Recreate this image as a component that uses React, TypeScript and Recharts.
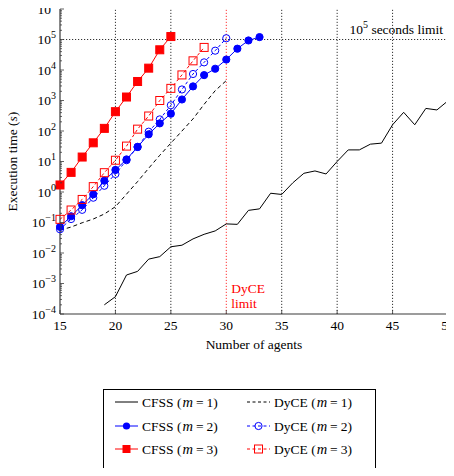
import React from "react";
import {
  LineChart,
  Line,
  XAxis,
  YAxis,
  ReferenceLine,
  Legend,
} from "recharts";

const FONT = "Liberation Serif, DejaVu Serif, serif";

const agents = [
  15, 16, 17, 18, 19, 20, 21, 22, 23, 24, 25, 26, 27, 28, 29, 30, 31, 32, 33,
  34, 35, 36, 37, 38, 39, 40, 41, 42, 43, 44, 45, 46, 47, 48, 49, 50,
];

// values per agent count, null where the run was not made
const cfss1 = [
  null, null, null, null, 0.0002, 0.00037, 0.0019, 0.0025, 0.0063, 0.0076,
  0.016, 0.018, 0.029, 0.041, 0.053, 0.09, 0.087, 0.25, 0.28, 0.91, 0.83, 2.0,
  4.1, 4.9, 3.9, 10, 24, 24, 37, 40, 160, 410, 160, 550, 490, 980,
];
const cfss2 = [
  0.072, 0.16, 0.37, 0.84, 2.35, 5.3, 11.7, 30, 78, 178, 370, 1080, 2900, 6800,
  11000, 22000, 50000, 93000, 120000, null, null, null, null, null, null, null,
  null, null, null, null, null, null, null, null, null, null,
];
const cfss3 = [
  1.7, 4.4, 14, 41, 122, 430, 1300, 4200, 11500, 46000, 125000, null, null,
  null, null, null, null, null, null, null, null, null, null, null, null, null,
  null, null, null, null, null, null, null, null, null, null,
];
const dyce1 = [
  0.056, 0.071, 0.098, 0.13, 0.19, 0.33, 0.85, 2.2, 6, 16, 40, 100, 250, 750,
  2100, 4500, null, null, null, null, null, null, null, null, null, null, null,
  null, null, null, null, null, null, null, null, null,
];
const dyce2 = [
  0.06, 0.13, 0.26, 0.65, 1.6, 3.9, 11, 30, 95, 240, 700, 2300, 7400, 17800,
  43000, 110000, null, null, null, null, null, null, null, null, null, null,
  null, null, null, null, null, null, null, null, null, null,
];
const dyce3 = [
  0.127, 0.257, 0.57, 1.5, 4.3, 11, 32, 115, 310, 1000, 2500, 6900, 20000,
  55000, null, null, null, null, null, null, null, null, null, null, null, null,
  null, null, null, null, null, null, null, null, null, null,
];

const xTicks = [15, 20, 25, 30, 35, 40, 45, 50];
const xGrid = [20, 25, 35, 40, 45];
const yMajor = [1e-4, 1e-3, 1e-2, 1e-1, 1, 10, 100, 1e3, 1e4, 1e5, 1e6];
const yTicks = yMajor
  .slice(0, -1)
  .flatMap((d) => [1, 2, 3, 4, 5, 6, 7, 8, 9].map((k) => k * d))
  .concat([1e6]);

const timeLimit = 1e5;
const dyceLimit = 30;

const data = agents.map((n, i) => ({
  n,
  cfss1: cfss1[i],
  cfss2: cfss2[i],
  cfss3: cfss3[i],
  dyce1: dyce1[i],
  dyce2: dyce2[i],
  dyce3: dyce3[i],
}));

const BLUE = "#0000ff";
const RED = "#ff0000";
const AXIS = "#3a3a3a";
const txt = { fontFamily: FONT, fontSize: 13.5 };

const isMajor = (v: number) =>
  Math.abs(Math.log10(v) - Math.round(Math.log10(v))) < 1e-6;

const expText = (e: number) => (e < 0 ? `\u2212${-e}` : `${e}`);

const YTick = (side: "left" | "right") => (props: any) => {
  const { x, y, payload } = props;
  const v = payload.value;
  const major = isMajor(v);
  const dir = side === "left" ? 1 : -1;
  return (
    <g>
      <line
        x1={x}
        x2={x + dir * (major ? 4 : 2)}
        y1={y}
        y2={y}
        stroke={AXIS}
        strokeWidth={0.8}
      />
      {side === "left" && major && (
        <text x={x - 4} y={y + 4.5} textAnchor="end" style={txt} fill="#000">
          <tspan>10</tspan>
          <tspan dy={-6} style={{ fontSize: 10 }}>
            {expText(Math.round(Math.log10(v)))}
          </tspan>
        </text>
      )}
    </g>
  );
};

const XTick = (side: "bottom" | "top") => (props: any) => {
  const { x, y, payload } = props;
  const dir = side === "bottom" ? -1 : 1;
  return (
    <g>
      <line x1={x} x2={x} y1={y} y2={y + dir * 4} stroke={AXIS} strokeWidth={0.8} />
      {side === "bottom" && (
        <text x={x} y={y + 16} textAnchor="middle" style={txt} fill="#000">
          {payload.value}
        </text>
      )}
    </g>
  );
};

const circleDot = (color: string, filled: boolean) => (props: any) => {
  const { cx, cy, index } = props;
  if (cx == null || cy == null) return <g key={`c-${index}`} />;
  return (
    <circle
      key={`c-${index}`}
      cx={cx}
      cy={cy}
      r={3.6}
      fill={filled ? color : "none"}
      stroke={color}
      strokeWidth={1}
    />
  );
};

const squareDot = (color: string, filled: boolean) => (props: any) => {
  const { cx, cy, index } = props;
  if (cx == null || cy == null) return <g key={`s-${index}`} />;
  return (
    <rect
      key={`s-${index}`}
      x={cx - 4}
      y={cy - 4}
      width={8}
      height={8}
      fill={filled ? color : "none"}
      stroke={color}
      strokeWidth={1}
    />
  );
};

const legendItems = [
  { name: "CFSS", m: 1, color: "#000", dash: undefined, marker: "none", col: 0, row: 0 },
  { name: "CFSS", m: 2, color: BLUE, dash: undefined, marker: "circle", col: 0, row: 1 },
  { name: "CFSS", m: 3, color: RED, dash: undefined, marker: "square", col: 0, row: 2 },
  { name: "DyCE", m: 1, color: "#000", dash: "3 2.5", marker: "none", col: 1, row: 0 },
  { name: "DyCE", m: 2, color: BLUE, dash: "3 2.5", marker: "ocircle", col: 1, row: 1 },
  { name: "DyCE", m: 3, color: RED, dash: "3 2.5", marker: "osquare", col: 1, row: 2 },
];

const renderLegend = () => {
  const colX = [12, 144];
  const rowY = [13, 37, 60];
  return (
    <svg width={273} height={83} style={{ display: "block" }}>
      <rect x={0.5} y={0.5} width={272} height={82} fill="#fff" stroke="#000" />
      {legendItems.map((it, i) => {
        const x0 = colX[it.col];
        const y0 = rowY[it.row];
        const mx = x0 + 11.5;
        return (
          <g key={i}>
            <line
              x1={x0}
              x2={x0 + 23}
              y1={y0}
              y2={y0}
              stroke={it.color}
              strokeWidth={1}
              strokeDasharray={it.dash}
            />
            {it.marker === "circle" && <circle cx={mx} cy={y0} r={3.6} fill={it.color} />}
            {it.marker === "ocircle" && (
              <circle cx={mx} cy={y0} r={3.6} fill="none" stroke={it.color} />
            )}
            {it.marker === "square" && (
              <rect x={mx - 4} y={y0 - 4} width={8} height={8} fill={it.color} />
            )}
            {it.marker === "osquare" && (
              <rect x={mx - 4} y={y0 - 4} width={8} height={8} fill="none" stroke={it.color} />
            )}
            <text x={x0 + 27} y={y0 + 4.5} style={txt} fill="#000">
              <tspan>{it.name} (</tspan>
              <tspan dx={1} style={{ fontStyle: "italic", fontSize: 14.5 }}>m</tspan>
              <tspan dx={3}>=</tspan>
              <tspan dx={3}>{it.m})</tspan>
            </text>
          </g>
        );
      })}
    </svg>
  );
};

export default function App() {
  return (
    <div style={{ margin: -8, width: 454, height: 476 }}>
      <LineChart
        width={454}
        height={476}
        data={data}
        margin={{ top: 9, right: 6, left: 0, bottom: 132 }}
      >
        <XAxis
          dataKey="n"
          type="number"
          domain={[15, 50]}
          ticks={xTicks}
          interval={0}
          tickSize={0}
          tickMargin={0}
          tickLine={false}
          tick={XTick("bottom")}
          height={30}
          axisLine={{ stroke: AXIS, strokeWidth: 1.2 }}
          label={(p: any) => {
            const vb = p.viewBox;
            return (
              <text
                x={vb.x + vb.width / 2}
                y={vb.y + 35}
                textAnchor="middle"
                style={txt}
                fill="#000"
              >
                Number of agents
              </text>
            );
          }}
        />
        <XAxis
          xAxisId="top"
          orientation="top"
          dataKey="n"
          type="number"
          domain={[15, 50]}
          ticks={xTicks}
          interval={0}
          tickSize={0}
          tickMargin={0}
          tickLine={false}
          tick={XTick("top")}
          height={0}
          axisLine={{ stroke: AXIS, strokeWidth: 1.2 }}
        />
        <YAxis
          scale="log"
          type="number"
          domain={[1e-4, 1e6]}
          allowDataOverflow
          ticks={yTicks}
          interval={0}
          tickSize={0}
          tickMargin={0}
          tickLine={false}
          tick={YTick("left")}
          width={60}
          axisLine={{ stroke: AXIS, strokeWidth: 1.2 }}
          label={(p: any) => {
            const vb = p.viewBox;
            const cx = vb.x + 17;
            const cy = vb.y + vb.height / 2;
            return (
              <text
                x={cx}
                y={cy}
                transform={`rotate(-90 ${cx} ${cy})`}
                textAnchor="middle"
                style={txt}
                fill="#000"
              >
                <tspan>Execution time (</tspan>
                <tspan style={{ fontStyle: "italic" }}>s</tspan>
                <tspan>)</tspan>
              </text>
            );
          }}
        />
        <YAxis
          yAxisId="right"
          orientation="right"
          scale="log"
          type="number"
          domain={[1e-4, 1e6]}
          allowDataOverflow
          ticks={yTicks}
          interval={0}
          tickSize={0}
          tickMargin={0}
          tickLine={false}
          tick={YTick("right")}
          width={0}
          axisLine={{ stroke: AXIS, strokeWidth: 1.2 }}
        />
        {xGrid.map((v) => (
          <ReferenceLine key={v} x={v} stroke="#000" strokeWidth={0.8} strokeDasharray="1.2 1.8" />
        ))}
        <ReferenceLine
          y={timeLimit}
          stroke="#000"
          strokeWidth={0.8}
          strokeDasharray="1.2 1.8"
          label={(p: any) => {
            const vb = p.viewBox;
            return (
              <text
                x={vb.x + vb.width - 5}
                y={vb.y - 6}
                textAnchor="end"
                style={txt}
                fill="#000"
              >
                <tspan>10</tspan>
                <tspan dy={-6} style={{ fontSize: 10 }}>5</tspan>
                <tspan dy={6}> seconds limit</tspan>
              </text>
            );
          }}
        />
        <ReferenceLine
          x={dyceLimit}
          stroke={RED}
          strokeWidth={0.8}
          strokeDasharray="1.2 1.8"
          label={(p: any) => {
            const vb = p.viewBox;
            const bottom = vb.y + vb.height;
            return (
              <text style={txt} fill={RED}>
                <tspan x={vb.x + 5} y={bottom - 21}>DyCE</tspan>
                <tspan x={vb.x + 5} y={bottom - 6}>limit</tspan>
              </text>
            );
          }}
        />
        <Line
          dataKey="cfss1"
          stroke="#000"
          strokeWidth={1}
          dot={false}
          isAnimationActive={false}
        />
        <Line
          dataKey="dyce1"
          stroke="#000"
          strokeWidth={1}
          strokeDasharray="4 3"
          dot={false}
          isAnimationActive={false}
        />
        <Line
          dataKey="dyce2"
          stroke={BLUE}
          strokeWidth={1}
          strokeDasharray="3 2.5"
          dot={circleDot(BLUE, false)}
          isAnimationActive={false}
        />
        <Line
          dataKey="cfss2"
          stroke={BLUE}
          strokeWidth={1}
          dot={circleDot(BLUE, true)}
          isAnimationActive={false}
        />
        <Line
          dataKey="dyce3"
          stroke={RED}
          strokeWidth={1}
          strokeDasharray="3 2.5"
          dot={squareDot(RED, false)}
          isAnimationActive={false}
        />
        <Line
          dataKey="cfss3"
          stroke={RED}
          strokeWidth={1}
          dot={squareDot(RED, true)}
          isAnimationActive={false}
        />
        <Legend
          layout="vertical"
          align="center"
          verticalAlign="middle"
          content={renderLegend}
          wrapperStyle={{ left: 103, top: 389, width: 273, height: 83 }}
        />
      </LineChart>
    </div>
  );
}
